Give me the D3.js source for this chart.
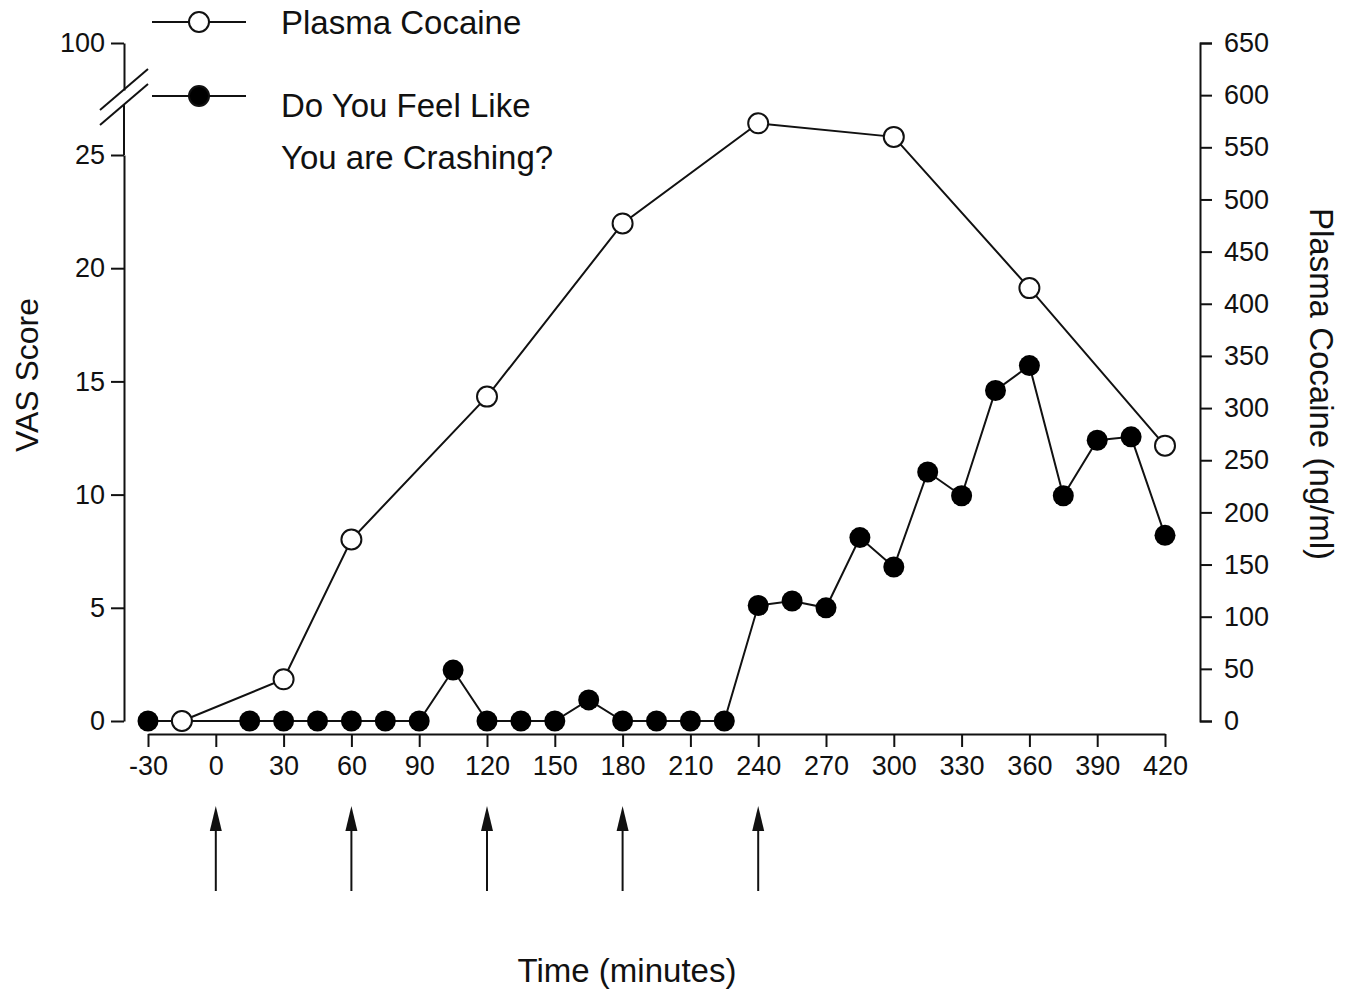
<!DOCTYPE html>
<html>
<head>
<meta charset="utf-8">
<script src="https://cdn.jsdelivr.net/npm/d3@7"></script>
<style>
  body { margin: 0; background: #fff; }
  text { font-family: "Liberation Sans", Arial, sans-serif; fill: #111; }
</style>
</head>
<body>
<div id="viz"></div>
<script>
// Plasma cocaine (open circles, right axis, ng/ml)
const plasmaTime = [-15, 30, 60, 120, 180, 240, 300, 360, 420]
const plasmaConc = [0, 40, 174, 311, 477, 573, 560, 415, 264]

// "Do You Feel Like You are Crashing?" VAS (filled circles, left axis)
const vasTime = [-30, -15, 15, 30, 45, 60, 75, 90, 105, 120, 135, 150, 165, 180, 195, 210, 225,
                 240, 255, 270, 285, 300, 315, 330, 345, 360, 375, 390, 405, 420]
const vasScore = [0, 0, 0, 0, 0, 0, 0, 0, 2.25, 0, 0, 0, 0.93, 0, 0, 0, 0,
                  5.1, 5.3, 5.0, 8.1, 6.8, 11.0, 9.95, 14.6, 15.7, 9.95, 12.4, 12.55, 8.2]

const xTicks = d3.range(-30, 421, 30)
const vasTicks = [0, 5, 10, 15, 20, 25]
const plasmaTicks = d3.range(0, 651, 50)
const doseTimes = [0, 60, 120, 180, 240]

const W = 1350, H = 992

const svg = d3.select("#viz").append("svg").attr("width", W).attr("height", H)

const x = d3.scaleLinear().domain([-30, 420]).range([148, 1165])
const yVas = d3.scaleLinear().domain([0, 25]).range([721, 155])
const yTop = d3.scaleLinear().domain([95, 100]).range([90, 43])
const yPlasma = d3.scaleLinear().domain([0, 650]).range([721, 43])

const fmt = d => String(d)

const styleAxis = g => {
    g.selectAll("path, line").attr("stroke", "#111").attr("stroke-width", 2)
    g.selectAll("text").style("font-size", "27px").attr("fill", "#111")
}

// x axis
svg.append("g")
.attr("transform", "translate(0,734)")
.call(d3.axisBottom(x).tickValues(xTicks).tickFormat(fmt).tickSize(13).tickSizeOuter(0).tickPadding(9))
.call(styleAxis)

// left axis, lower part up to the break
svg.append("g")
.attr("transform", "translate(124,0)")
.call(d3.axisLeft(yVas).tickValues(vasTicks).tickFormat(fmt).tickSize(13).tickSizeOuter(0).tickPadding(6))
.call(styleAxis)
svg.append("line")
.attr("x1", 124).attr("x2", 124)
.attr("y1", yVas(25)).attr("y2", 104)
.attr("stroke", "#111").attr("stroke-width", 2)

// left axis, upper part above the break
svg.append("g")
.attr("transform", "translate(124,0)")
.call(d3.axisLeft(yTop).tickValues([100]).tickFormat(fmt).tickSize(13).tickSizeOuter(0).tickPadding(6))
.call(styleAxis)

// break marks
const breaks = [[100, 110, 148, 69], [100, 125, 148, 84]]
svg.selectAll(".brk")
.data(breaks)
.enter()
.append("line")
.attr("class", "brk")
.attr("x1", d => d[0]).attr("y1", d => d[1])
.attr("x2", d => d[2]).attr("y2", d => d[3])
.attr("stroke", "#111").attr("stroke-width", 2)

// right axis
svg.append("g")
.attr("transform", "translate(1200,0)")
.call(d3.axisRight(yPlasma).tickValues(plasmaTicks).tickFormat(fmt).tickSize(12).tickSizeOuter(12).tickPadding(12))
.call(styleAxis)

// axis titles
svg.append("text")
.attr("transform", "translate(38,375) rotate(-90)")
.attr("text-anchor", "middle")
.style("font-size", "32px")
.text("VAS Score")

svg.append("text")
.attr("transform", "translate(1310,384) rotate(90)")
.attr("text-anchor", "middle")
.style("font-size", "33px")
.text("Plasma Cocaine (ng/ml)")

svg.append("text")
.attr("x", 627).attr("y", 982)
.attr("text-anchor", "middle")
.style("font-size", "33px")
.text("Time (minutes)")

// dose arrows
svg.selectAll(".arrow-line")
.data(doseTimes)
.enter()
.append("line")
.attr("class", "arrow-line")
.attr("x1", d => x(d)).attr("x2", d => x(d))
.attr("y1", 891).attr("y2", 822)
.attr("stroke", "#111").attr("stroke-width", 2)

svg.selectAll(".arrow-head")
.data(doseTimes)
.enter()
.append("path")
.attr("class", "arrow-head")
.attr("d", d => `M${x(d)},806 L${x(d) - 6},831 L${x(d) + 6},831 Z`)
.attr("fill", "#111")

const line = d3.line()
.x(d => x(d[0]))
.y(d => d[1])

// VAS series
const vasPts = vasTime.map((t, i) => [t, yVas(vasScore[i])])
svg.append("path")
.attr("d", line(vasPts))
.attr("fill", "none")
.attr("stroke", "#111")
.attr("stroke-width", 2)

svg.selectAll(".vas")
.data(vasPts)
.enter()
.append("circle")
.attr("class", "vas")
.attr("cx", d => x(d[0]))
.attr("cy", d => d[1])
.attr("r", 10.5)
.attr("fill", "#000")

// plasma series
const plasmaPts = plasmaTime.map((t, i) => [t, yPlasma(plasmaConc[i])])
svg.append("path")
.attr("d", line(plasmaPts))
.attr("fill", "none")
.attr("stroke", "#111")
.attr("stroke-width", 2)

svg.selectAll(".plasma")
.data(plasmaPts)
.enter()
.append("circle")
.attr("class", "plasma")
.attr("cx", d => x(d[0]))
.attr("cy", d => d[1])
.attr("r", 10)
.attr("fill", "#fff")
.attr("stroke", "#111")
.attr("stroke-width", 2)

// legend
const legend = [
    {y: 22, fill: "#fff", textY: 34, label: ["Plasma Cocaine"]},
    {y: 96, fill: "#000", textY: 117, label: ["Do You Feel Like", "You are Crashing?"]}
]
legend.forEach(l => {
    svg.append("line")
    .attr("x1", 152).attr("x2", 246)
    .attr("y1", l.y).attr("y2", l.y)
    .attr("stroke", "#111").attr("stroke-width", 2)
    svg.append("circle")
    .attr("cx", 199).attr("cy", l.y).attr("r", 10)
    .attr("fill", l.fill).attr("stroke", "#111").attr("stroke-width", 2)
    l.label.forEach((s, i) => {
        svg.append("text")
        .attr("x", 281).attr("y", l.textY + i * 52)
        .style("font-size", "33px")
        .text(s)
    })
})
</script>
</body>
</html>
